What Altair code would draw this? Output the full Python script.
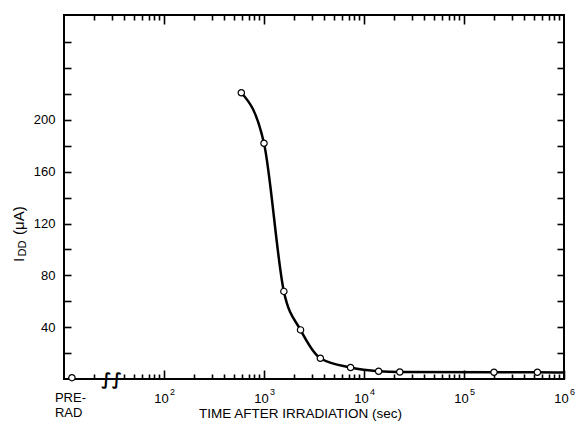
import altair as alt
import pandas as pd

# ---- data ----
times = [593, 1000, 1580, 2320, 3660, 7340, 14000, 22800, 199500, 542000]
idd = [221, 182, 67.6, 37.9, 16, 8.9, 6.0, 5.4, 5.2, 5.2]
tail_time = [1000000]
tail_idd = [5.0]
prerad_time = [12]
prerad_idd = [1]
prerad_label = ["PRE-\nRAD"]
break_time = [30]
break_idd = [0]

major_ticks = [100, 1000, 10000, 100000, 1000000]
exponents = ["2", "3", "4", "5", "6"]
minor_ticks = [m * 10 ** e for e in range(1, 6) for m in range(2, 10)]
bottom_minor = [t for t in minor_ticks if t != 30]
top_major = [100, 1000, 10000, 100000]
y_ticks = list(range(20, 280, 20))
y_labels = [40, 80, 120, 160, 200]
x_title = "TIME AFTER IRRADIATION (sec)"
y_title_parts = ["I", "DD", "(\u03bcA)"]

FONT = "Liberation Sans"

line_df = pd.DataFrame({"t": times + tail_time, "v": idd + tail_idd})
pts_df = pd.DataFrame({"t": times, "v": idd})
pre_df = pd.DataFrame({"t": prerad_time, "v": prerad_idd, "lbl": prerad_label})
brk_df = pd.DataFrame({"t": break_time, "v": break_idd})
one_df = pd.DataFrame({"k": [0]})

xscale = alt.Scale(type="log", domain=[10, 1e6], nice=False)
yscale = alt.Scale(domain=[0, 281], nice=False, zero=True)

base_ax = dict(grid=False, domain=False, tickColor="black", tickWidth=1.6,
               labelFont=FONT, labelColor="black", labelFlush=False,
               labelBound=False, labelOverlap=False)

exp_map = "{" + ",".join(f"'{v}':'{e}'" for v, e in zip(major_ticks, exponents)) + "}"
ylab_arr = "[" + ",".join(str(v) for v in y_labels) + "]"

x_major_bottom = alt.Axis(orient="bottom", values=major_ticks, tickSize=9, offset=-9,
                          labelExpr="'10'", labelFontSize=13, labelPadding=13,
                          labelOffset=-3, title=x_title, titleFont=FONT,
                          titleFontSize=13.5, titleFontWeight="normal",
                          titleColor="black", titleX=236, titleY=36,
                          titleBaseline="top", **base_ax)
x_minor_bottom = alt.Axis(orient="bottom", values=bottom_minor, tickSize=5, offset=-5,
                          labels=False, title=None, **base_ax)
x_major_top = alt.Axis(orient="top", values=top_major, tickSize=9, offset=-9,
                       labels=False, title=None, **base_ax)
x_minor_top = alt.Axis(orient="top", values=minor_ticks, tickSize=5, offset=-5,
                       labels=False, title=None, **base_ax)
x_exp_bottom = alt.Axis(orient="bottom", values=major_ticks, ticks=False, tickSize=0,
                        labelExpr=exp_map + "[datum.value + '']", labelFontSize=9,
                        labelPadding=8, labelOffset=8, title=None, **base_ax)

y_left = alt.Axis(orient="left", values=y_ticks, tickSize=7, offset=-7, labelPadding=9,
                  labelFontSize=13,
                  labelExpr=f"indexof({ylab_arr}, datum.value) >= 0 ? datum.label : ''",
                  title=None, **base_ax)
y_right = alt.Axis(orient="right", values=y_ticks, tickSize=7, offset=-7, labels=False,
                   title=None, **base_ax)

line = alt.Chart(line_df).mark_line(
    color="black", strokeWidth=2.5, interpolate="monotone"
).encode(
    x=alt.X("t:Q", scale=xscale, axis=x_major_bottom),
    y=alt.Y("v:Q", scale=yscale, axis=y_left),
)

points = alt.Chart(pts_df).mark_point(
    shape="circle", filled=True, fill="white", stroke="black", strokeWidth=1.2,
    size=40, opacity=1
).encode(
    x=alt.X("t:Q", scale=xscale, axis=x_minor_bottom),
    y=alt.Y("v:Q", scale=yscale, axis=y_right),
)

pre_point = alt.Chart(pre_df).mark_point(
    shape="circle", filled=True, fill="white", stroke="black", strokeWidth=1.2,
    size=40, opacity=1
).encode(
    x=alt.X("t:Q", scale=xscale, axis=x_major_top),
    y=alt.Y("v:Q", scale=yscale, axis=None),
)

pre_text = alt.Chart(pre_df).mark_text(
    align="left", baseline="top", dx=-17, dy=14, lineBreak="\n", lineHeight=15,
    font=FONT, fontSize=13, color="black"
).encode(
    x=alt.X("t:Q", scale=xscale, axis=x_minor_top),
    y=alt.Y("v:Q", scale=yscale, axis=None),
    text="lbl:N",
)

brk = alt.Chart(brk_df).mark_text(
    text="\u222b\u222b", font="DejaVu Sans", fontSize=17, baseline="middle",
    align="center", color="black", dy=1, fontWeight="bold"
).encode(
    x=alt.X("t:Q", scale=xscale, axis=x_exp_bottom),
    y=alt.Y("v:Q", scale=yscale, axis=None),
)

yt1 = alt.Chart(one_df).mark_text(
    angle=270, align="left", baseline="alphabetic", font=FONT, fontSize=15, color="black"
).encode(x=alt.value(-40.5), y=alt.value(247), text=alt.value(y_title_parts[0]))
yt2 = alt.Chart(one_df).mark_text(
    angle=270, align="left", baseline="alphabetic", font=FONT, fontSize=11, color="black"
).encode(x=alt.value(-38), y=alt.value(241.5), text=alt.value(y_title_parts[1]))
yt3 = alt.Chart(one_df).mark_text(
    angle=270, align="left", baseline="alphabetic", font=FONT, fontSize=15, color="black"
).encode(x=alt.value(-40.5), y=alt.value(220), text=alt.value(y_title_parts[2]))

chart = alt.layer(line, points, pre_point, pre_text, brk, yt1, yt2, yt3).resolve_axis(
    x="independent", y="independent"
).properties(
    width=500, height=364,
    padding={"left": 64, "top": 15, "right": 18, "bottom": 42},
    autosize=alt.AutoSizeParams(type="none"),
).configure(
    background="white", font=FONT
).configure_view(
    stroke="black", strokeWidth=2
)

chart.save("out.html", embed_options={"renderer": "svg", "actions": False})
